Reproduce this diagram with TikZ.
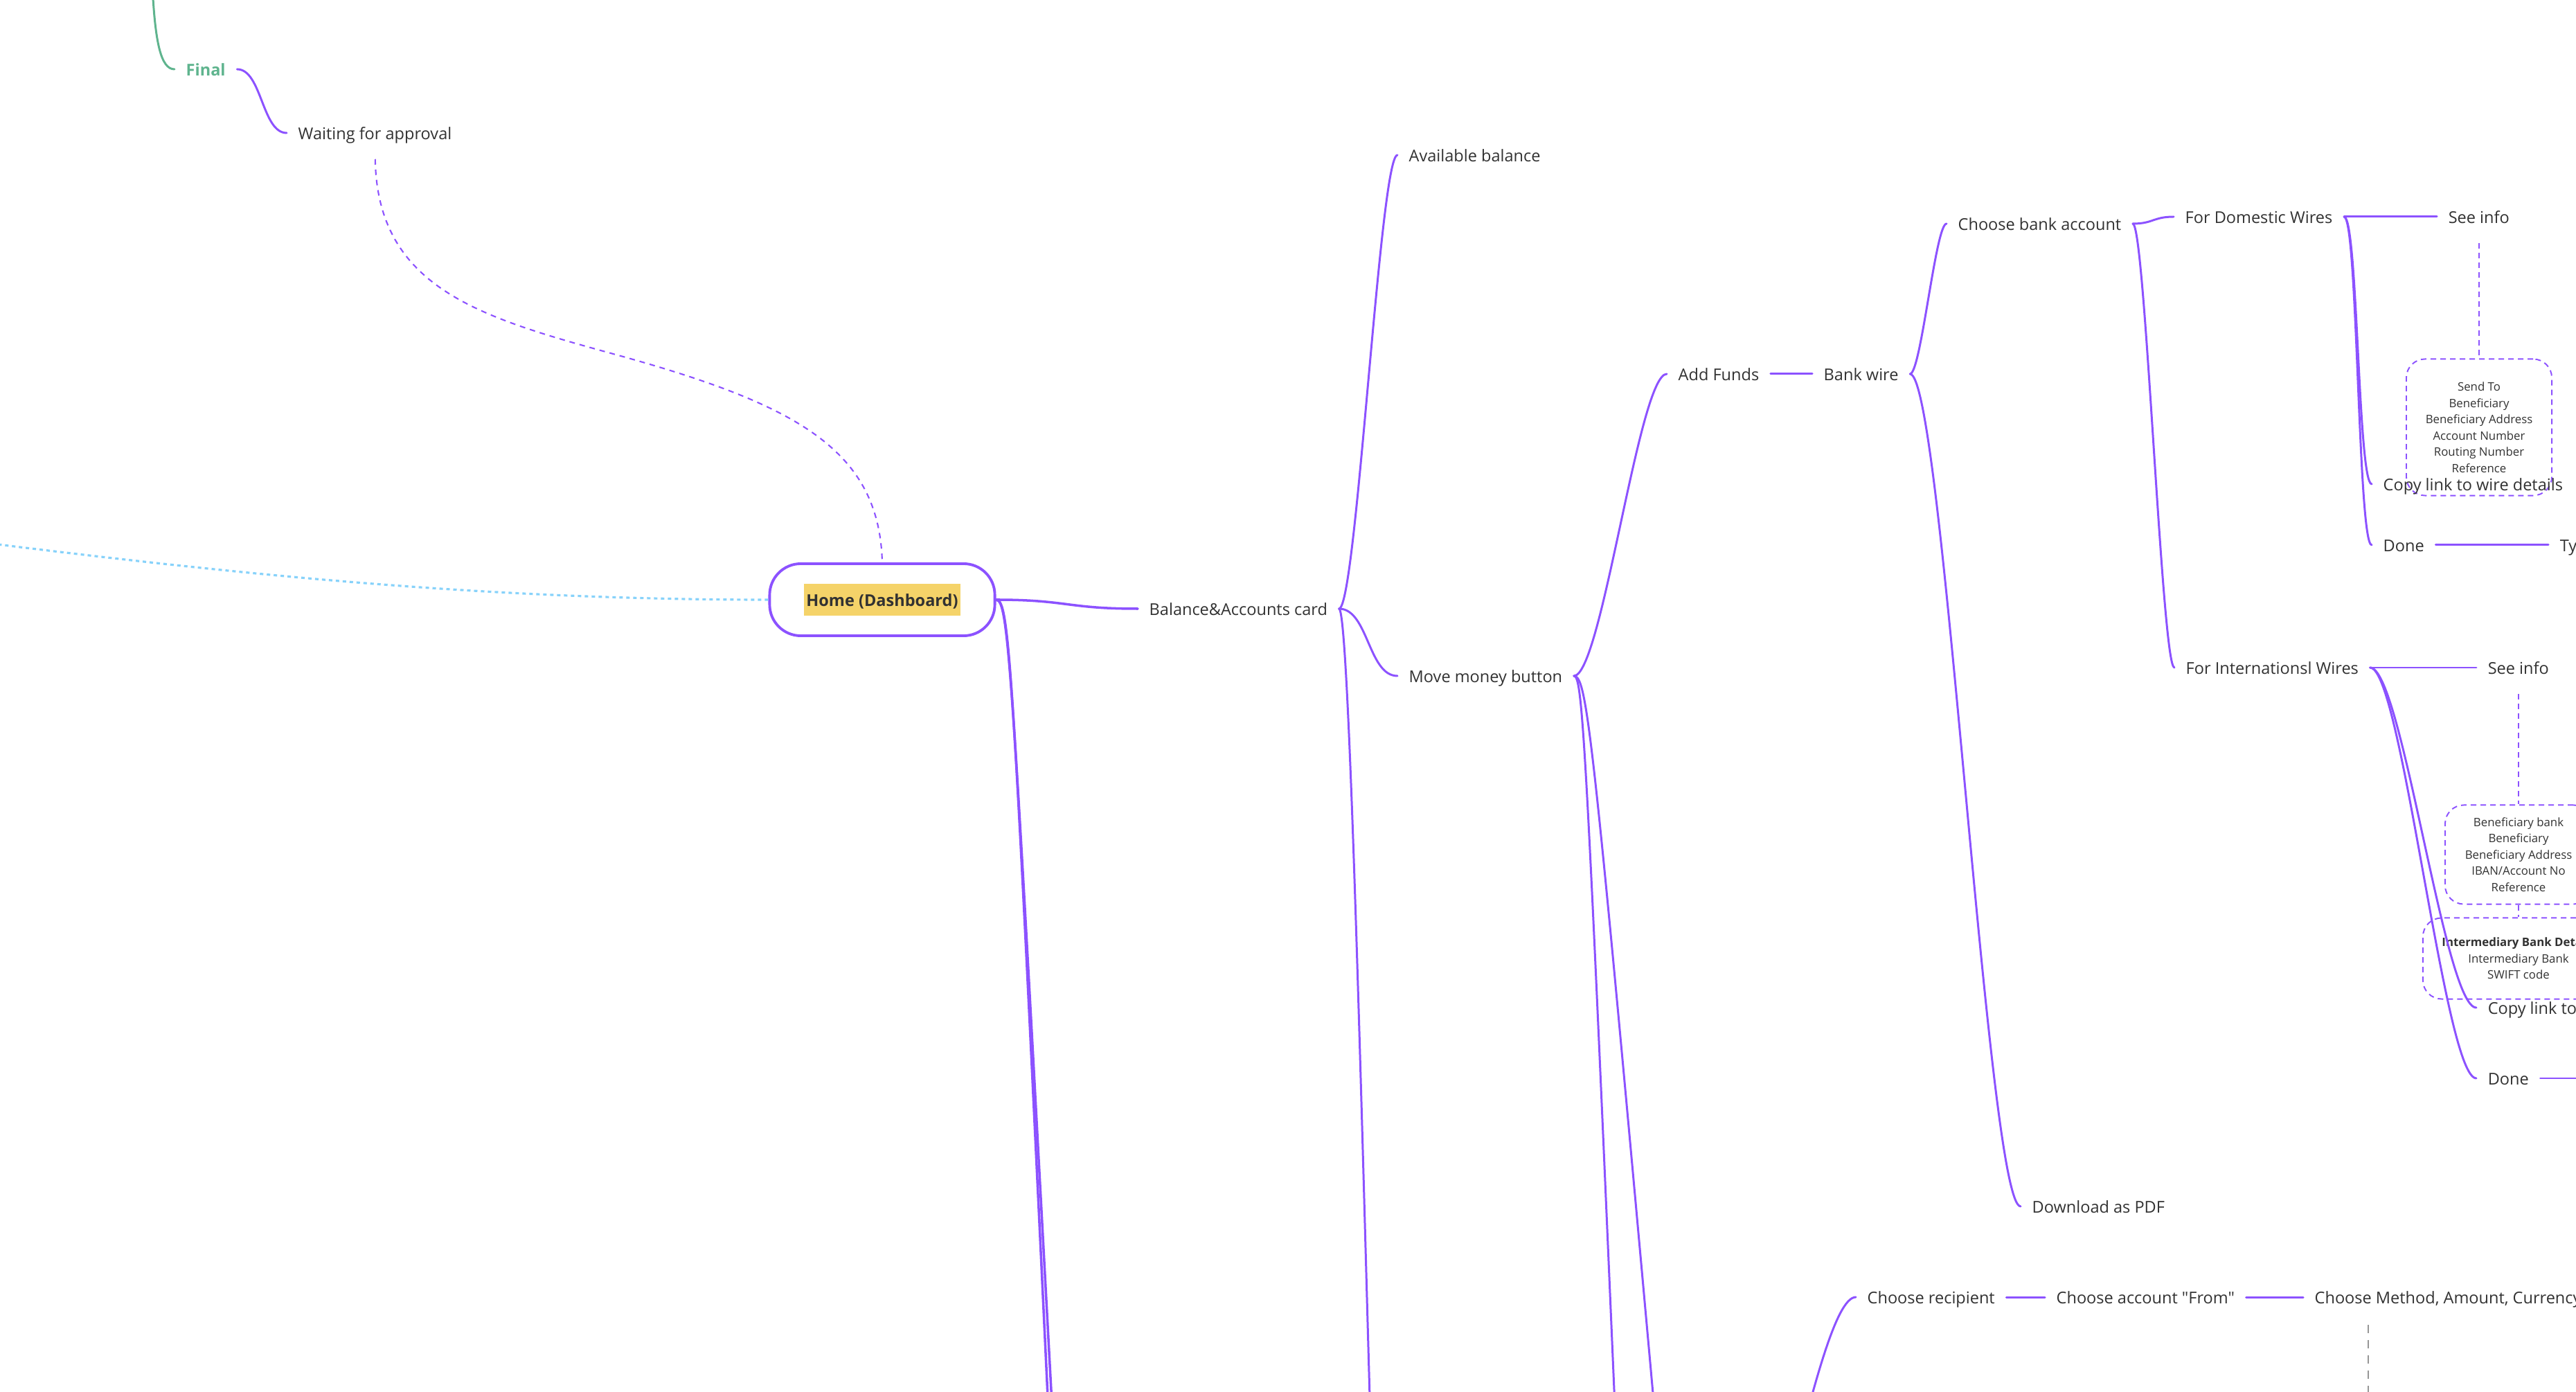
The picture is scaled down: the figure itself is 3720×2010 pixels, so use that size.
\documentclass[tikz,border=0pt]{standalone}
\usepackage{fontspec}
\setmainfont{Open Sans}
\newfontfamily\mmplain{Open Sans}
\usetikzlibrary{calc}
\definecolor{mmpurple}{RGB}{140,82,255}
\definecolor{mmgreen}{RGB}{95,180,142}
\definecolor{mmtext}{RGB}{50,50,50}
\definecolor{mmblue}{RGB}{135,210,250}
\definecolor{mmyellow}{RGB}{245,211,105}
\definecolor{mmgray}{RGB}{150,150,150}
\newcommand\mmfont{\fontsize{6.69pt}{8pt}\selectfont}
\newcommand\mmsmall{\fontsize{4.78pt}{6.69pt}\selectfont}
\begin{document}
\begin{tikzpicture}[x=0.01cm,y=-0.01cm,
  lbl/.style={anchor=west, inner xsep=0.16cm, inner ysep=0pt, text height=0.75em, text depth=0.22em, font=\mmfont, text=mmtext},
  conn/.style={draw=mmpurple, line width=0.85pt, line cap=round},
  mmcurve/.style={to path={let \p1=(\tikztostart), \p2=(\tikztotarget) in .. controls ({\x1+#1*(\x2-\x1)},\y1) and ({\x2-#1*(\x2-\x1)},\y2) .. (\tikztotarget) \tikztonodes}},
  mmcurve/.default=0.3,
  homebox/.style={draw=mmpurple, line width=1.1pt, rounded corners=0.45cm, minimum width=3.25cm, minimum height=1.04cm},
  homelabel/.style={fill=mmyellow, font=\mmfont\bfseries, text=mmtext, inner xsep=0.03cm, inner ysep=0.055cm, text height=0.75em, text depth=0.22em},
  notebox/.style={draw=mmpurple, line width=0.55pt, dash pattern=on 0.08cm off 0.06cm, rounded corners=0.27cm, font=\mmsmall, text=mmtext, align=center, inner sep=0pt},
  notelink/.style={draw=mmpurple, line width=0.55pt, dash pattern=on 0.08cm off 0.06cm},
  dashlink/.style={draw=mmpurple, line width=0.6pt, dash pattern=on 0.08cm off 0.07cm},
  bluedot/.style={draw=mmblue, line width=0.9pt, dash pattern=on 0.05cm off 0.05cm},
  graydash/.style={draw=mmgray, line width=0.5pt, dash pattern=on 0.12cm off 0.1cm}
]
\useasboundingbox (0,0) rectangle (3720,2010);
\clip (0,0) rectangle (3720,2010);

% ---------- nodes ----------
\node[lbl, font=\mmfont\bfseries, text=mmgreen] (final) at (252,100) {Final};
\node[lbl] (wait) at (414,192) {Waiting for approval};
\node[homebox] (home) at (1274,866) {};
\node[homelabel] (homelbl) at (home.center) {Home (Dashboard)};
\node[lbl] (balance) at (1643,879) {Balance\&Accounts card};
\node[lbl] (avail) at (2018,224) {Available balance};
\node[lbl] (move) at (2018,976) {Move money button};
\node[lbl] (addfunds) at (2407,540) {Add Funds};
\node[lbl] (bankwire) at (2617,540) {Bank wire};
\node[lbl] (choosebank) at (2811,323) {Choose bank account};
\node[lbl] (domestic) at (3139,313) {For Domestic Wires};
\node[lbl] (seeinfoA) at (3519,313) {See info};
\node[notebox, minimum width=2.10cm, minimum height=1.97cm] (noteA) at (3580,617)
  {Send To\\Beneficiary\\Beneficiary Address\\Account Number\\Routing Number\\Reference};
\node[lbl] (copyA) at (3425,699) {Copy link to wire details};
\node[lbl] (doneA) at (3425,787) {Done};
\node[lbl] (tyA) at (3680,787) {Ty};
\node[lbl] (intl) at (3140,964) {For Internationsl Wires};
\node[lbl] (seeinfoB) at (3576,964) {See info};
\node[notebox, minimum width=2.12cm, minimum height=1.43cm] (noteB) at (3637,1234)
  {Beneficiary bank\\Beneficiary\\Beneficiary Address\\IBAN/Account No\\Reference};
\node[notebox, minimum width=2.76cm, minimum height=1.17cm] (noteC) at (3637,1384)
  {\textbf{Intermediary Bank Details}\\Intermediary Bank\\SWIFT code};
\node[lbl] (copyB) at (3576,1455) {Copy link to wire details};
\node[lbl] (doneB) at (3576,1557) {Done};
\node[lbl] (pdf) at (2918,1742) {Download as PDF};
\node[lbl] (recip) at (2680,1873) {Choose recipient};
\node[lbl] (from) at (2953,1873) {{\mmplain Choose account "From"}};
\node[lbl] (method) at (3326,1873) {Choose Method, Amount, Currency};

% ---------- free ends ----------
\coordinate (gtop) at (220,-20);
\coordinate (wmid) at (900,515);
\coordinate (westend) at (-20,784);
\coordinate (hd1) at (1517,2100);
\coordinate (hd2) at (1523,2100);
\coordinate (bd) at (2018,3000);
\coordinate (ma) at (2335,2100);
\coordinate (mb) at (2395,2100);
\coordinate (rsrc) at (2490,2400);
\coordinate (doneBend) at (3760,1557);
\coordinate (gdash) at (3420,2100);

% ---------- connectors ----------
\draw[conn, draw=mmgreen] (gtop) .. controls (224,60) and (232,100) .. (final.west);
\draw[conn] (final.east) to[mmcurve=0.5] (wait.west);
\draw[dashlink, shorten <=0.2cm] (wait.south) .. controls (545,420) and (700,460) .. (wmid)
  .. controls (1150,585) and (1270,650) .. (home.north);
\draw[bluedot] (home.west) .. controls (700,866) and (350,830) .. (westend);

\draw[conn, line width=1pt] (home.east) to[mmcurve=0.5] (balance.west);
\draw[conn, line width=1pt] (home.east) .. controls (1458,867) and (1462,950) .. (hd1);
\draw[conn, line width=1pt] (home.east) .. controls (1457,867) and (1461,952) .. (hd2);

\draw[conn] (balance.east) to[mmcurve] (avail.west);
\draw[conn] (balance.east) to[mmcurve=0.5] (move.west);
\draw[conn] (balance.east) to[mmcurve] (bd);

\draw[conn] (move.east) to[mmcurve] (addfunds.west);
\draw[conn] (move.east) .. controls (2285,977) and (2290,1050) .. (ma);
\draw[conn] (move.east) .. controls (2292,977) and (2300,1050) .. (mb);

\draw[conn] (addfunds.east) -- (bankwire.west);
\draw[conn] (bankwire.east) to[mmcurve] (choosebank.west);
\draw[conn] (bankwire.east) to[mmcurve] (pdf.west);

\draw[conn] (choosebank.east) to[mmcurve=0.5] (domestic.west);
\draw[conn] (choosebank.east) to[mmcurve] (intl.west);

\draw[conn] (domestic.east) -- (seeinfoA.west);
\draw[conn] (domestic.east) to[mmcurve=0.5] (copyA.west);
\draw[conn] (domestic.east) to[mmcurve=0.5] (doneA.west);
\draw[conn] (doneA.east) -- (tyA.west);
\draw[notelink, shorten <=0.2cm] (seeinfoA.south) -- (seeinfoA.south |- noteA.north);

\draw[conn] (intl.east) -- (seeinfoB.west);
\draw[conn] (intl.east) to[mmcurve] (copyB.west);
\draw[conn] (intl.east) to[mmcurve] (doneB.west);
\draw[conn] (doneB.east) -- (doneBend);
\draw[notelink, shorten <=0.2cm] (seeinfoB.south) -- (seeinfoB.south |- noteB.north);
\draw[notelink] (noteB.south) -- (noteC.north);

\draw[conn] (rsrc) to[mmcurve] (recip.west);
\draw[conn] (recip.east) -- (from.west);
\draw[conn] (from.east) -- (method.west);
\draw[graydash, shorten <=0.22cm] (method.south -| gdash) -- (gdash);
\end{tikzpicture}
\end{document}
